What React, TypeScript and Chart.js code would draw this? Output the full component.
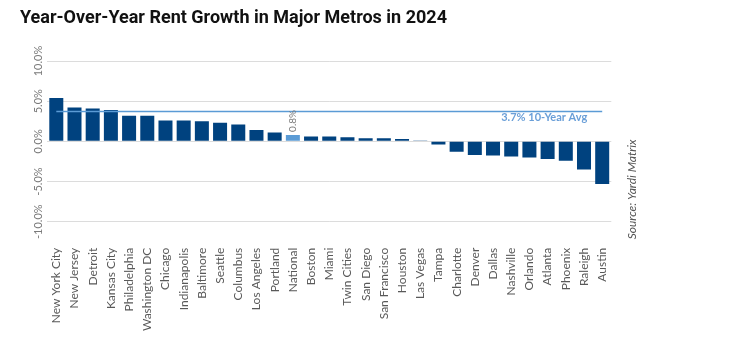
import React, { useEffect, useRef } from "react";
import { Chart, registerables } from "chart.js";

Chart.register(...registerables);

const categories = [
  "New York City", "New Jersey", "Detroit", "Kansas City", "Philadelphia", "Washington DC",
  "Chicago", "Indianapolis", "Baltimore", "Seattle", "Columbus", "Los Angeles", "Portland",
  "National", "Boston", "Miami", "Twin Cities", "San Diego", "San Francisco", "Houston",
  "Las Vegas", "Tampa", "Charlotte", "Denver", "Dallas", "Nashville", "Orlando", "Atlanta",
  "Phoenix", "Raleigh", "Austin",
];

const rentGrowth = [
  5.4, 4.2, 4.1, 3.9, 3.2, 3.2,
  2.6, 2.6, 2.5, 2.3, 2.1, 1.4, 1.1,
  0.8, 0.6, 0.6, 0.5, 0.4, 0.4, 0.3,
  0.1, -0.4, -1.3, -1.7, -1.75, -1.9, -2.0, -2.2,
  -2.4, -3.5, -5.3,
];

const tenYearAvg = 3.7;
const avgLabel = "3.7% 10-Year Avg";
const highlightCategory = "National";
const highlightLabel = "0.8%";
const sourceText = "Source: Yardi Matrix";
const titleText = "Year-Over-Year Rent Growth in Major Metros in 2024";

const NAVY = "#00427f";
const LIGHT = "#5b9bd5";

const annotations = {
  id: "annotations",
  afterDatasetsDraw(chart: any) {
    const { ctx, scales } = chart;
    const meta = chart.getDatasetMeta(0);
    const idx = categories.indexOf(highlightCategory);
    const bar = meta.data[idx];
    ctx.save();
    ctx.translate(bar.x, bar.y - 3);
    ctx.rotate(-Math.PI / 2);
    ctx.font = "10px Lato";
    ctx.fillStyle = "#7a7a7a";
    ctx.textAlign = "left";
    ctx.textBaseline = "middle";
    ctx.fillText(highlightLabel, 0, 0);
    ctx.restore();

    ctx.save();
    const lastX = scales.x.getPixelForValue(categories.length - 1);
    const y = scales.y.getPixelForValue(tenYearAvg);
    ctx.font = "bold 11px Lato";
    ctx.fillStyle = "#6a9fd8";
    ctx.textAlign = "right";
    ctx.textBaseline = "middle";
    ctx.fillText(avgLabel, lastX - 15, y + 6);
    ctx.restore();
  },
  afterDraw(chart: any) {
    const { ctx, chartArea } = chart;
    ctx.save();
    ctx.translate(chartArea.right + 21, (chartArea.top + chartArea.bottom) / 2 + 48);
    ctx.rotate(-Math.PI / 2);
    ctx.font = "italic 12px Lato";
    ctx.fillStyle = "#555555";
    ctx.textAlign = "center";
    ctx.textBaseline = "middle";
    ctx.fillText(sourceText, 0, 0);
    ctx.restore();
  },
};

export default function App() {
  const ref = useRef<HTMLCanvasElement>(null);

  useEffect(() => {
    if (!ref.current) return;
    const chart = new Chart(ref.current, {
      type: "bar",
      data: {
        labels: categories,
        datasets: [
          {
            type: "bar",
            label: "Rent Growth",
            data: rentGrowth,
            backgroundColor: categories.map((c) => (c === highlightCategory ? LIGHT : NAVY)),
            barPercentage: 0.77,
            categoryPercentage: 1,
            order: 2,
          },
          {
            type: "line",
            label: "10-Year Avg",
            data: categories.map(() => tenYearAvg),
            borderColor: LIGHT,
            borderWidth: 1.5,
            pointRadius: 0,
            fill: false,
            order: 1,
          } as any,
        ],
      },
      options: {
        animation: false,
        responsive: true,
        maintainAspectRatio: false,
        layout: { padding: { left: 20, right: 120.7, top: 0, bottom: 0 } },
        plugins: {
          legend: { display: false },
          tooltip: { enabled: false },
          title: {
            display: true,
            text: titleText,
            align: "start",
            color: "#111111",
            font: { family: "Roboto", size: 18, weight: "bold" },
            padding: { top: 8, bottom: 31.4 },
          },
        },
        scales: {
          x: {
            grid: { display: false },
            border: { display: false },
            ticks: {
              autoSkip: false,
              minRotation: 90,
              maxRotation: 90,
              padding: 18,
              color: "#595959",
              font: { family: "Lato", size: 12 },
            },
            afterFit(scale: any) {
              scale.height = 142.3;
            },
          },
          y: {
            min: -10,
            max: 10,
            grid: { color: "#dcdcdc", lineWidth: 1, drawTicks: false },
            border: { display: false },
            ticks: {
              stepSize: 5,
              minRotation: 90,
              maxRotation: 90,
              crossAlign: "center",
              padding: -9,
              color: "#7a7a7a",
              font: { family: "Lato", size: 11 },
              callback: (v: any) => Number(v).toFixed(1) + "%",
            },
            afterFit(scale: any) {
              scale.width = 27.2;
            },
          },
        },
      },
      plugins: [annotations],
    });
    return () => chart.destroy();
  }, []);

  return (
    <div style={{ position: "absolute", left: 0, top: 0, width: 732, height: 364, background: "#fff" }}>
      <canvas ref={ref} />
    </div>
  );
}
